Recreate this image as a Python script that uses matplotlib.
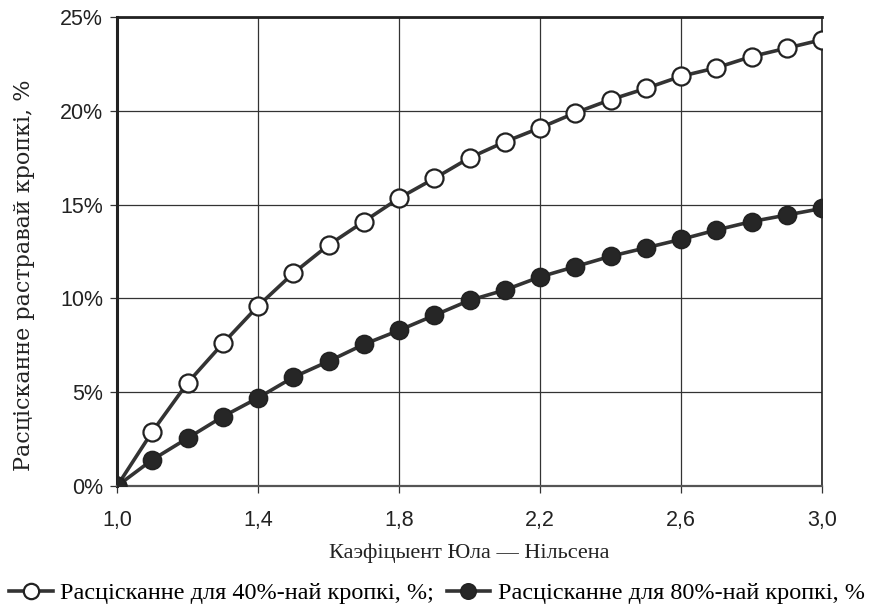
import numpy as np
import matplotlib.pyplot as plt
from matplotlib.ticker import FixedLocator, FuncFormatter

# Yule-Nielsen coefficient
yn_coef = [1.0, 1.1, 1.2, 1.3, 1.4, 1.5, 1.6, 1.7, 1.8, 1.9, 2.0,
           2.1, 2.2, 2.3, 2.4, 2.5, 2.6, 2.7, 2.8, 2.9, 3.0]

# dot gain, %
gain_40 = [0.0, 2.9, 5.5, 7.6, 9.6, 11.35, 12.85, 14.1, 15.35, 16.4, 17.5,
           18.35, 19.1, 19.9, 20.6, 21.2, 21.85, 22.3, 22.9, 23.35, 23.8]
gain_80 = [0.0, 1.4, 2.55, 3.7, 4.7, 5.8, 6.65, 7.55, 8.3, 9.1, 9.9,
           10.45, 11.15, 11.7, 12.25, 12.7, 13.15, 13.65, 14.1, 14.45, 14.8]

x_ticks = [1.0, 1.4, 1.8, 2.2, 2.6, 3.0]
y_ticks = [0, 5, 10, 15, 20, 25]

label_40 = "Расцісканне для 40%-най кропкі, %;"
label_80 = "Расцісканне для 80%-най кропкі, %"

fig = plt.figure(figsize=(8.74, 6.14), dpi=100)
ax = fig.add_axes([0.134, 0.2085, 0.8065, 0.7635])

ax.plot(yn_coef, gain_40, color="#333333", lw=2.6, marker="o", ms=13,
        mfc="white", mec="#222222", mew=1.6, label=label_40, zorder=3)
ax.plot(yn_coef, gain_80, color="#333333", lw=2.6, marker="o", ms=13,
        mfc="#262626", mec="#222222", mew=1.2, label=label_80, zorder=4)

ax.set_xlim(1.0, 3.0)
ax.set_ylim(0, 25)
ax.xaxis.set_major_locator(FixedLocator(x_ticks))
ax.yaxis.set_major_locator(FixedLocator(y_ticks))
ax.xaxis.set_major_formatter(FuncFormatter(lambda v, p: f"{v:.1f}".replace(".", ",")))
ax.yaxis.set_major_formatter(FuncFormatter(lambda v, p: f"{v:.0f}%"))

ax.grid(True, color="#333333", lw=0.9)
ax.set_axisbelow(True)
for side, w in [("left", 2.2), ("top", 2.0), ("bottom", 1.6), ("right", 1.2)]:
    ax.spines[side].set_linewidth(w)
    ax.spines[side].set_color("#222222")
ax.spines["bottom"].set_color("#555555")

ax.tick_params(axis="both", direction="out", length=5, width=0.9, color="#333333",
               labelsize=15.5)
ax.tick_params(axis="x", pad=12)
ax.tick_params(axis="y", pad=5)
for lab in ax.get_xticklabels() + ax.get_yticklabels():
    lab.set_fontfamily("Liberation Sans")
    lab.set_color("#222222")

ax.set_ylabel("Расцісканне растравай кропкі, %", family="DejaVu Serif",
              fontsize=16, color="#222222")
ax.yaxis.set_label_coords(-0.117, 0.45)
ax.set_xlabel("Каэфіцыент Юла — Нільсена", family="Liberation Serif",
              fontsize=16, color="#222222", labelpad=9)

fig.legend(loc="lower center", bbox_to_anchor=(0.5, -0.02), ncol=2,
           frameon=False, prop={"family": "Liberation Serif", "size": 17.5},
           handlelength=1.8, handletextpad=0.3, columnspacing=0.5,
           markerscale=0.85)

fig.savefig("out.png", dpi=100)
